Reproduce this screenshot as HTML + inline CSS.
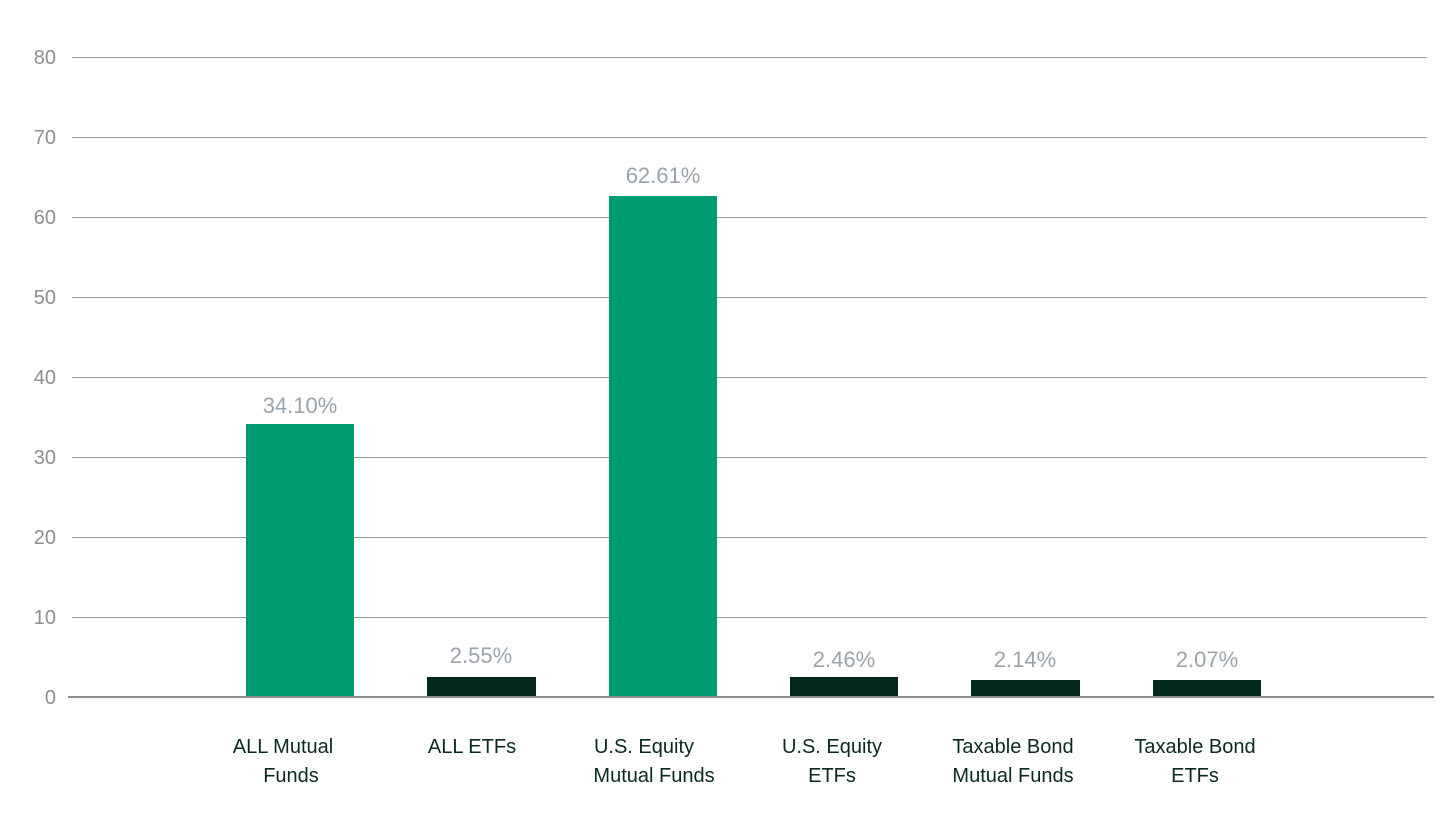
<!DOCTYPE html>
<html><head><meta charset="utf-8"><style>
html,body{margin:0;padding:0;background:#fff;}
svg{display:block;font-family:"Liberation Sans",Arial,sans-serif;}
</style></head><body>
<svg width="1440" height="833" viewBox="0 0 1440 833">
<g stroke="#9a9a9a" stroke-width="1">
<line x1="72" y1="57.5" x2="1427" y2="57.5"/>
<line x1="72" y1="137.5" x2="1427" y2="137.5"/>
<line x1="72" y1="217.5" x2="1427" y2="217.5"/>
<line x1="72" y1="297.5" x2="1427" y2="297.5"/>
<line x1="72" y1="377.5" x2="1427" y2="377.5"/>
<line x1="72" y1="457.5" x2="1427" y2="457.5"/>
<line x1="72" y1="537.5" x2="1427" y2="537.5"/>
<line x1="72" y1="617.5" x2="1427" y2="617.5"/>
</g>
<g fill="#8a8f93" font-size="20" text-anchor="end">
<text x="56" y="64">80</text><text x="56" y="144">70</text><text x="56" y="224">60</text>
<text x="56" y="304">50</text><text x="56" y="384">40</text><text x="56" y="464">30</text>
<text x="56" y="544">20</text><text x="56" y="624">10</text><text x="56" y="704">0</text>
</g>
<rect x="246" y="424" width="108" height="273" fill="#009b72"/>
<rect x="427" y="677" width="109" height="20" fill="#03291b"/>
<rect x="609" y="196" width="108" height="501" fill="#009b72"/>
<rect x="790" y="677" width="108" height="20" fill="#03291b"/>
<rect x="971" y="680" width="109" height="17" fill="#03291b"/>
<rect x="1153" y="680" width="108" height="17" fill="#03291b"/>
<line x1="68" y1="697" x2="1434" y2="697" stroke="#8c8c8c" stroke-width="2"/>
<g fill="#9aa3ad" font-size="22" text-anchor="middle">
<text x="300" y="413">34.10%</text>
<text x="481" y="663">2.55%</text>
<text x="663" y="183">62.61%</text>
<text x="844" y="667">2.46%</text>
<text x="1025" y="667">2.14%</text>
<text x="1207" y="667">2.07%</text>
</g>
<g fill="#0a2a1e" font-size="20" text-anchor="middle">
<text x="283" y="753">ALL Mutual</text><text x="291" y="782">Funds</text>
<text x="472" y="753">ALL ETFs</text>
<text x="644" y="753">U.S. Equity</text><text x="654" y="782">Mutual Funds</text>
<text x="832" y="753">U.S. Equity</text><text x="832" y="782">ETFs</text>
<text x="1013" y="753">Taxable Bond</text><text x="1013" y="782">Mutual Funds</text>
<text x="1195" y="753">Taxable Bond</text><text x="1195" y="782">ETFs</text>
</g>
</svg>
</body></html>
